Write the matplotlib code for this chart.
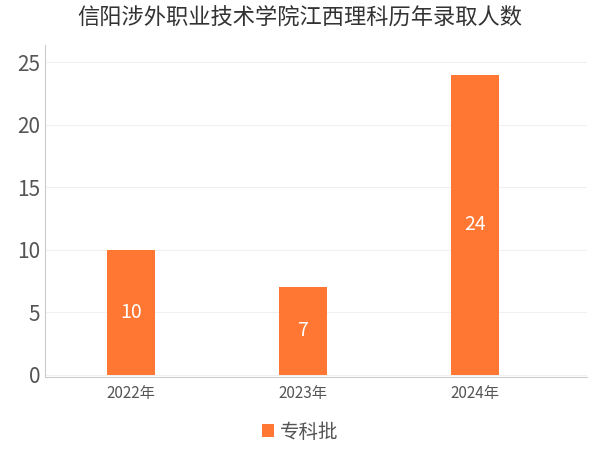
import matplotlib
matplotlib.use("Agg")
import matplotlib.pyplot as plt

plt.rcParams['font.family'] = ['Noto Sans CJK SC', 'DejaVu Sans']

categories = ["2022年", "2023年", "2024年"]
values = [10, 7, 24]
series_name = "专科批"
title = "信阳涉外职业技术学院江西理科历年录取人数"
color = "#FF7733"

fig = plt.figure(figsize=(6, 4.5), dpi=100)
ax = fig.add_axes([45/600, 1-377/450, 542/600, 332/450])
x = range(len(categories))
bars = ax.bar(x, values, width=0.28, color=color, label=series_name, zorder=3)
for xi, v in zip(x, values):
    ax.text(xi, v/2, str(v), ha='center', va='center', color='white', fontsize=14)
ax.set_xlim(-0.5, 2.65)
ax.set_ylim(-0.2, 26.4)
ax.set_yticks([0, 5, 10, 15, 20, 25])
ax.set_xticks(list(x))
ax.set_xticklabels(categories, fontsize=11, color='#555555')
ax.tick_params(axis='y', labelsize=15, colors='#555555', length=0)
ax.tick_params(axis='x', length=0, pad=6)
ax.grid(axis='y', color='#f0f0f0', linewidth=0.8, zorder=0)
for s in ['top', 'right']:
    ax.spines[s].set_visible(False)
ax.spines['left'].set_color('#cccccc')
ax.spines['bottom'].set_color('#cccccc')
fig.text(0.5, 1-18/450, title, ha='center', va='center', fontsize=16, color='#333333')
fig.legend(handles=[bars], labels=[series_name], loc='center', bbox_to_anchor=(0.5, 1-432/450),
           frameon=False, fontsize=14, handlelength=0.6, handleheight=0.6, handletextpad=0.3,
           labelcolor='#555555')
fig.savefig("out.png", dpi=100)
